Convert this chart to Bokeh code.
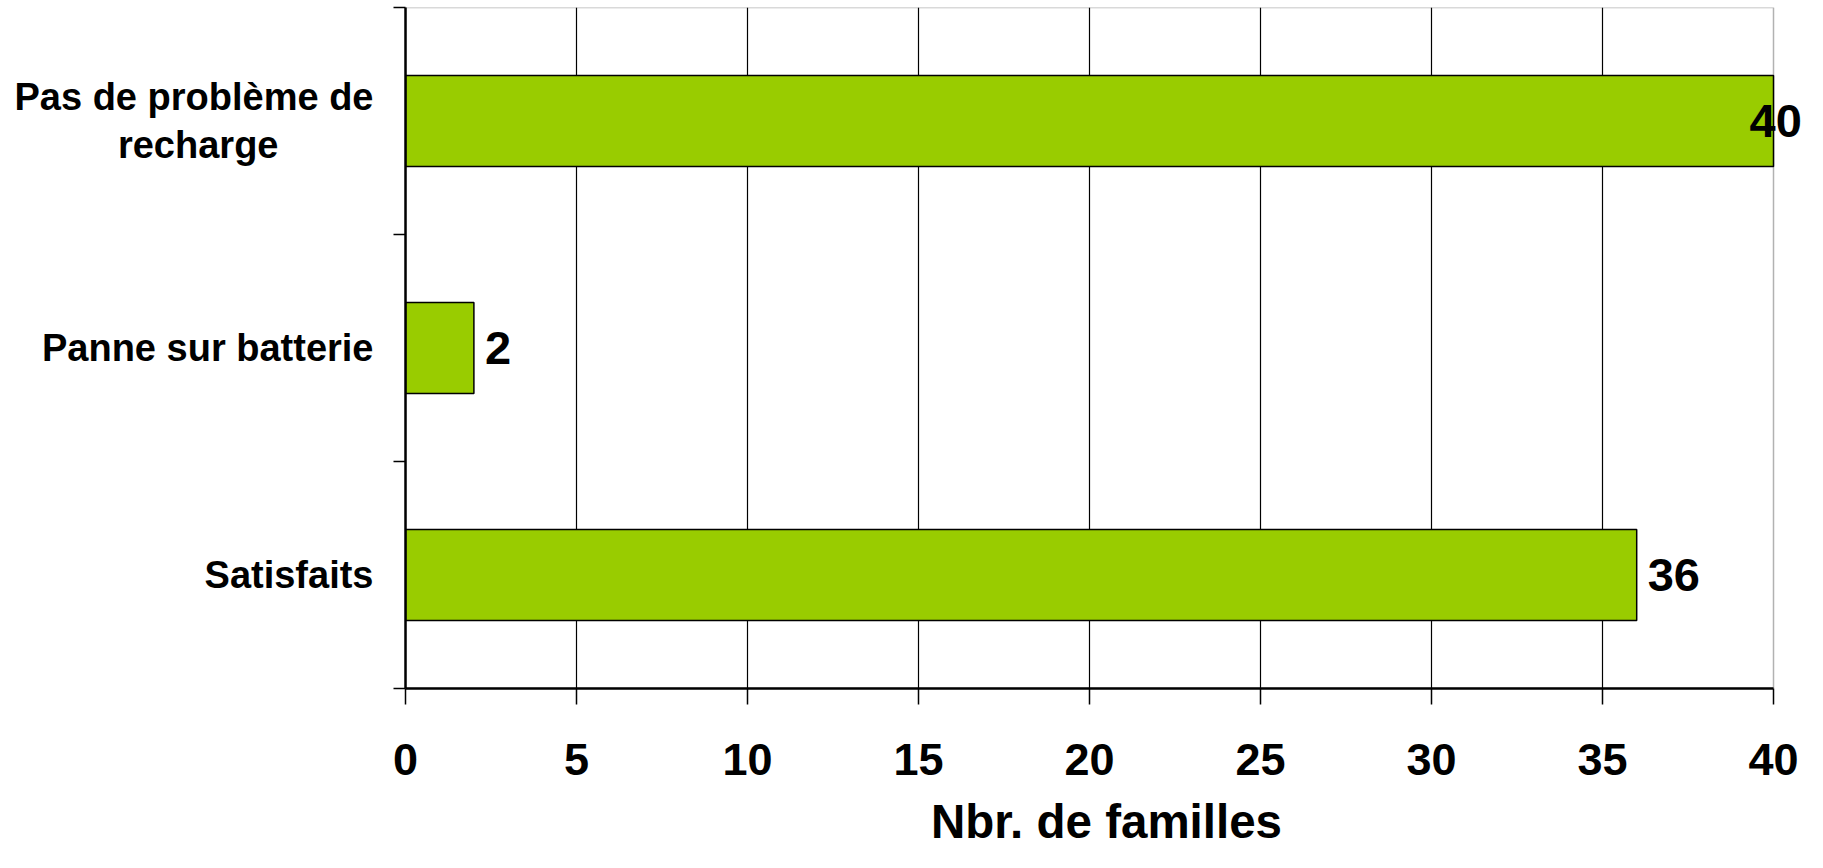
from bokeh.plotting import figure
from bokeh.models import ColumnDataSource, FixedTicker, Range1d, LabelSet, BoxAnnotation
from bokeh.core.properties import value
from bokeh.embed import file_html
from bokeh.resources import INLINE

# ---- data ----
categories = ["Satisfaits", "Panne sur batterie", "Pas de problème de\nrecharge"]
values = [36, 2, 40]
x_ticks = [0, 5, 10, 15, 20, 25, 30, 35, 40]
x_title = "Nbr. de familles"

FONT = "Liberation Sans"
X_MAX = 40
N = len(categories)

W, H = 1807, 852
F_LEFT, F_RIGHT_AT_MAX, F_TOP, F_BOTTOM = 405, 1773, 7, 688
# frame extends to the right edge so that the "40" value label is not clipped
X_END = X_MAX * (W - F_LEFT) / (F_RIGHT_AT_MAX - F_LEFT)

ypos = [i + 0.5 for i in range(N)]
offsets = [11 if v < X_MAX else -24 for v in values]
src = ColumnDataSource(dict(y=ypos, v=values, lab=[str(v) for v in values], off=offsets))


def centred(label, pad=9):
    # approximate centring of the shorter second line (tick labels are right aligned)
    lines = label.split("\n")
    if len(lines) == 1:
        return label
    return lines[0] + "\n" + lines[1] + "\u00a0" * pad


p = figure(width=W, height=H, output_backend="svg", toolbar_location=None,
           x_range=Range1d(0, X_END), y_range=Range1d(0, N),
           min_border_left=F_LEFT, min_border_right=0, min_border_top=F_TOP,
           min_border_bottom=H - F_BOTTOM)

p.hbar(y="y", right="v", left=0, height=0.4, source=src,
       fill_color="#99CC00", line_color="black", line_width=1.5)

# plot-area border (0..X_MAX)
p.add_layout(BoxAnnotation(left=0, right=X_MAX, bottom=0, top=N, fill_color=None,
                           line_color="black", line_width=1.5, level="underlay"))

labels = LabelSet(x="v", y="y", text="lab", source=src, x_offset="off",
                  text_font=value(FONT), text_font_style="bold", text_font_size=value("47px"),
                  text_baseline="middle", text_align="left", text_color="black")
p.add_layout(labels)

# x axis
p.xaxis.bounds = (0, X_MAX)
p.xaxis.ticker = FixedTicker(ticks=x_ticks)
p.xaxis.axis_label = x_title
p.xaxis.axis_label_text_font = FONT
p.xaxis.axis_label_text_font_style = "bold"
p.xaxis.axis_label_text_font_size = "47.5px"
p.xaxis.axis_label_text_color = "black"
p.xaxis.axis_label_standoff = 17
p.xaxis.major_label_text_font = FONT
p.xaxis.major_label_text_font_style = "bold"
p.xaxis.major_label_text_font_size = "45px"
p.xaxis.major_label_text_color = "black"
p.xaxis.major_label_standoff = 39
p.xaxis.major_tick_out = 16
p.xaxis.major_tick_in = 0
p.xaxis.major_tick_line_color = "black"
p.xaxis.major_tick_line_width = 1.5
p.xaxis.minor_tick_line_color = None
p.xaxis.axis_line_color = "black"
p.xaxis.axis_line_width = 2.5

# y axis: labels at band centres, ticks at band boundaries
p.yaxis.ticker = FixedTicker(ticks=ypos, minor_ticks=list(range(N + 1)))
p.yaxis.major_label_overrides = {y: centred(c) for y, c in zip(ypos, categories)}
p.yaxis.major_label_text_font = FONT
p.yaxis.major_label_text_font_style = "bold"
p.yaxis.major_label_text_font_size = "38px"
p.yaxis.major_label_text_color = "black"
p.yaxis.major_label_text_line_height = 1.12
p.yaxis.major_label_standoff = 20
p.yaxis.major_tick_out = 0
p.yaxis.major_tick_in = 0
p.yaxis.minor_tick_out = 12
p.yaxis.minor_tick_in = 0
p.yaxis.minor_tick_line_color = "black"
p.yaxis.minor_tick_line_width = 1.5
p.yaxis.axis_line_color = "black"
p.yaxis.axis_line_width = 2.5

p.xgrid.ticker = FixedTicker(ticks=x_ticks[1:-1])
p.xgrid.grid_line_color = "black"
p.xgrid.grid_line_width = 1.2
p.ygrid.grid_line_color = None

p.outline_line_color = None
p.background_fill_color = "white"
p.border_fill_color = "white"

open("out.html", "w").write(file_html(p, INLINE))
